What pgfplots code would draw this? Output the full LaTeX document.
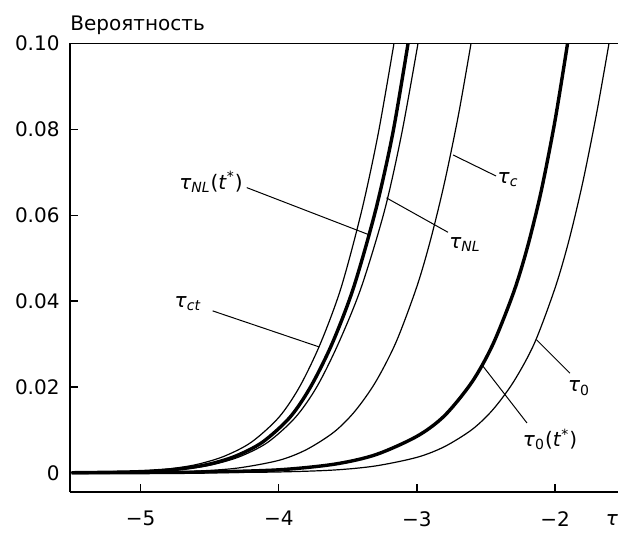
\documentclass[border=0pt]{standalone}
\usepackage{fontspec}
\setmainfont{DejaVu Sans}
\usepackage{pgfplots}
\pgfplotsset{compat=1.18}

% tau with a subscript (letters italic) and an optional suffix
\newcommand{\tsub}[2]{\textit{τ}\textsubscript{#1}#2}
\newcommand{\tstar}{(\textit{t}\textsuperscript{*})}

\begin{document}
\begin{tikzpicture}
\begin{axis}[
  width=274pt, height=224.4pt, scale only axis,
  xmin=-5.512, xmax=-1.544, ymin=-0.00449, ymax=0.1,
  axis x line*=bottom, axis y line*=left,
  axis line style={line width=0.7pt,-},
  xtick={-5,-4,-3,-2}, xticklabels={−5,−4,−3,−2},
  ytick={0,0.02,0.04,0.06,0.08,0.1},
  yticklabels={0,0.02,0.04,0.06,0.08,0.10},
  tick align=inside, major tick length=4pt,
  tick style={line width=0.6pt, black},
  xticklabel style={yshift=-6pt},
  yticklabel style={xshift=-1.7pt},
  /pgf/number format/assume math mode=true,
  clip=false,
]
% upper frame line
\draw[line width=0.7pt] (rel axis cs:0,1) -- (rel axis cs:1,1);

% tau_ct
\addplot[line width=0.6pt, smooth] coordinates {
  (-5.5,0.00004) (-5.2,0.00017) (-5.0,0.0004) (-4.8,0.0009) (-4.6,0.0019)
  (-4.4,0.0038) (-4.2,0.0071) (-4.0,0.0129) (-3.85,0.0200) (-3.7,0.0300)
  (-3.55,0.0430) (-3.4,0.0610) (-3.28,0.0790) (-3.166,0.1000)};
% tau_NL(t*)
\addplot[line width=1.7pt, smooth] coordinates {
  (-5.5,0.00002) (-5.12,0.00017) (-4.92,0.0004) (-4.72,0.0009) (-4.52,0.0019)
  (-4.32,0.0038) (-4.12,0.0071) (-3.92,0.0129) (-3.77,0.0200) (-3.615,0.0300)
  (-3.46,0.0430) (-3.30,0.0610) (-3.175,0.0790) (-3.064,0.1000)};
% tau_NL
\addplot[line width=0.6pt, smooth] coordinates {
  (-5.5,0.00001) (-5.08,0.00017) (-4.88,0.0004) (-4.68,0.0009) (-4.48,0.0019)
  (-4.28,0.0038) (-4.08,0.0071) (-3.88,0.0129) (-3.725,0.0200) (-3.57,0.0300)
  (-3.405,0.0430) (-3.235,0.0610) (-3.11,0.0790) (-2.992,0.1000)};
% tau_c
\addplot[line width=0.6pt, smooth] coordinates {
  (-5.5,0.00001) (-5.0,0.00009) (-4.6,0.0004) (-4.3,0.0011) (-4.0,0.0029)
  (-3.8,0.0054) (-3.6,0.0095) (-3.45,0.0143) (-3.3,0.0211) (-3.15,0.0305)
  (-3.0,0.0434) (-2.9,0.0544) (-2.8,0.0676) (-2.7,0.0832) (-2.608,0.1000)};
% tau_0(t*)
\addplot[line width=1.7pt, smooth] coordinates {
  (-5.5,0.00001) (-5.0,0.00005) (-4.5,0.0002) (-4.0,0.0007) (-3.6,0.0020)
  (-3.3,0.0042) (-3.0,0.0085) (-2.8,0.0133) (-2.6,0.0212) (-2.45,0.0299)
  (-2.3,0.0420) (-2.2,0.0525) (-2.1,0.0656) (-2.0,0.0820) (-1.909,0.1000)};
% tau_0
\addplot[line width=0.6pt, smooth] coordinates {
  (-5.5,0.0000) (-5.0,0.00001) (-4.5,0.00004) (-4.0,0.0002) (-3.6,0.00065)
  (-3.3,0.0016) (-3.0,0.0036) (-2.8,0.0061) (-2.6,0.0101) (-2.45,0.0147)
  (-2.3,0.0212) (-2.15,0.0301) (-2.0,0.0430) (-1.9,0.0540) (-1.8,0.0675)
  (-1.7,0.0835) (-1.609,0.1000)};

% leader lines
\draw[line width=0.5pt] (axis cs:-4.232,0.0664) -- (axis cs:-3.353,0.0555);
\draw[line width=0.5pt] (axis cs:-4.479,0.0377) -- (axis cs:-3.707,0.0293);
\draw[line width=0.5pt] (axis cs:-2.738,0.0740) -- (axis cs:-2.427,0.0691);
\draw[line width=0.5pt] (axis cs:-2.775,0.0560) -- (axis cs:-3.220,0.0640);
\draw[line width=0.5pt] (axis cs:-2.135,0.0310) -- (axis cs:-1.892,0.0232);
\draw[line width=0.5pt] (axis cs:-2.521,0.0248) -- (axis cs:-2.203,0.0116);

% curve labels
\node at (axis cs:-4.491,0.0677) {\tsub{\textit{NL}}{\tstar}};
\node at (axis cs:-4.657,0.0393) {\tsub{\textit{ct}}{}};
\node at (axis cs:-2.340,0.0683) {\tsub{\textit{c}}{}};
\node at (axis cs:-2.652,0.0532) {\tsub{\textit{NL}}{}};
\node at (axis cs:-1.826,0.0197) {\tsub{0}{}};
\node at (axis cs:-2.036,0.0078) {\tsub{0}{\tstar}};

% axis titles
\node[anchor=base west, inner sep=0pt] at ([yshift=6.3pt]rel axis cs:0,1) {Вероятность};
\node[anchor=base west, inner sep=0pt] at ([yshift=-16.5pt]rel axis cs:0.977,0) {\textit{τ}};
\end{axis}
\pgfresetboundingbox
\path[use as bounding box] (-35pt,-20pt) rectangle (274pt,246.05pt);
\end{tikzpicture}
\end{document}
